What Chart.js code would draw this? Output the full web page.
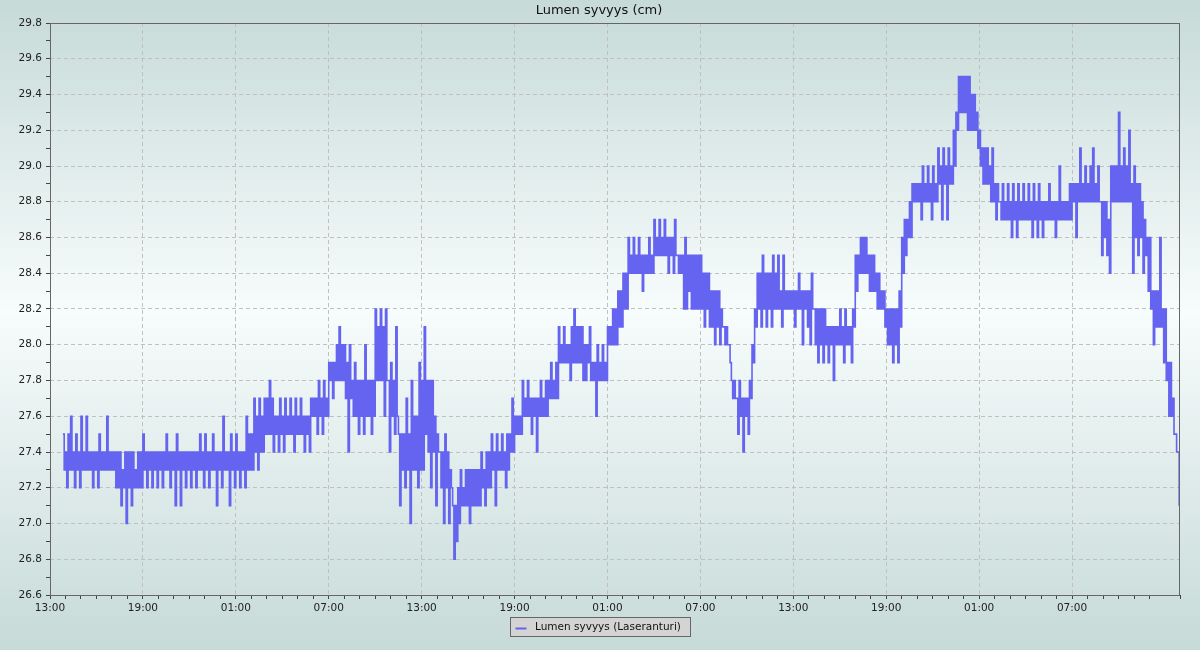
<!DOCTYPE html>
<html><head><meta charset="utf-8">
<script src="https://cdn.jsdelivr.net/npm/chart.js@4/dist/chart.umd.min.js"></script>
<style>html,body{margin:0;padding:0;background:#d8e7e5;overflow:hidden}</style>
</head><body>
<canvas id="c" width="1200" height="650"></canvas>
<script>
const TITLE = 'Lumen syvyys (cm)';
const SERIES_LABEL = 'Lumen syvyys (Laseranturi)';
const START_CLOCK_HOUR = 13;        // first x tick is 13:00
const SAMPLES_PER_HOUR = 12;        // 5-minute readings
const X_MAX_HOURS = 72.97;
const Y_MIN = 26.6, Y_MAX = 29.8;

// Readings (cm), 5-minute steps, one array per 6-hour window
const w13a = [null,null,null,null,null,null,null,null,null,null,
  27.5,27.3,27.4,27.2,27.5,27.3,27.6,27.3,27.4,27.2,27.5,27.3,27.4,27.2,27.6,27.3,27.4,27.3,27.6,27.3,27.4,27.3,27.4,27.2,27.4,27.3,27.4,27.2,27.5,27.3,27.4,27.3,27.4,27.3,27.6,27.3,27.4,27.3,27.4,27.3,
  27.4,27.2,27.4,27.2,27.4,27.1,27.3,27.2,27.4,27.0,27.4,27.2,27.4,27.1,27.4,27.2,27.3,27.2,27.4,27.2,27.4,27.2];
const w19a = [27.5,27.3,27.4,27.2,27.4,27.3,27.4,27.2,27.4,27.3,27.4,27.2,27.4,27.3,27.4,27.2,27.4,27.3,27.5,27.3,27.4,27.2,27.4,27.3,27.4,27.1,27.5,27.3,27.4,27.1,27.4,27.3,27.4,27.2,27.4,27.3,
  27.4,27.2,27.4,27.3,27.4,27.2,27.4,27.3,27.5,27.3,27.4,27.2,27.5,27.3,27.4,27.2,27.4,27.3,27.5,27.3,27.4,27.1,27.4,27.3,27.4,27.2,27.6,27.3,27.4,27.3,27.4,27.1,27.5,27.3,27.4,27.2];
const w01b = [27.5,27.3,27.4,27.2,27.4,27.3,27.4,27.2,27.6,27.3,27.5,27.3,27.5,27.3,27.7,27.4,27.6,27.3,27.7,27.4,27.6,27.4,27.7,27.5,27.7,27.5,27.8,27.5,27.7,27.4,27.6,27.5,27.6,27.4,27.7,27.5,
  27.6,27.4,27.7,27.5,27.6,27.5,27.7,27.5,27.6,27.4,27.7,27.5,27.6,27.5,27.7,27.5,27.6,27.4,27.6,27.5,27.6,27.4,27.7,27.6,27.7,27.6,27.7,27.5,27.8,27.6,27.7,27.5,27.8,27.6,27.7,27.6];
const w07b = [27.9,27.8,27.9,27.7,27.9,27.8,28.0,27.8,28.1,27.8,28.0,27.8,28.0,27.7,27.9,27.4,28.0,27.7,27.8,27.6,27.9,27.6,27.8,27.5,27.8,27.6,27.8,27.5,28.0,27.6,27.8,27.6,27.8,27.5,27.8,27.6,
  28.2,27.8,28.1,27.8,28.2,27.8,28.1,27.6,28.2,27.8,27.8,27.4,27.9,27.6,27.8,27.5,28.1,27.6,27.5,27.1,27.5,27.3,27.5,27.2,27.7,27.3,27.5,27.0,27.8,27.3,27.6,27.3,27.6,27.2,27.9,27.3];
const w13b = [27.8,27.3,28.1,27.5,27.8,27.4,27.8,27.2,27.8,27.4,27.6,27.1,27.5,27.4,27.4,27.2,27.4,27.0,27.5,27.2,27.4,27.0,27.3,27.2,27.1,26.8,27.1,26.9,27.2,27.0,27.3,27.1,27.2,27.1,27.3,27.1,
  27.3,27.0,27.3,27.1,27.3,27.1,27.3,27.1,27.3,27.1,27.4,27.2,27.3,27.1,27.4,27.2,27.4,27.2,27.5,27.3,27.4,27.1,27.5,27.3,27.4,27.3,27.5,27.3,27.4,27.2,27.5,27.3,27.5,27.4,27.7,27.4];
const w19b = [27.6,27.5,27.6,27.5,27.6,27.5,27.8,27.6,27.7,27.6,27.8,27.6,27.7,27.5,27.7,27.6,27.7,27.4,27.7,27.6,27.8,27.6,27.7,27.6,27.8,27.6,27.8,27.7,27.9,27.7,27.8,27.7,27.9,27.7,28.1,27.9,
  28.0,27.9,28.1,27.9,28.0,27.9,28.0,27.8,28.1,27.9,28.2,27.9,28.1,27.9,28.1,27.9,28.1,27.8,28.0,27.8,28.0,27.9,28.1,27.8,27.9,27.8,27.9,27.6,28.0,27.8,27.9,27.8,28.0,27.8,27.9,27.8];
const w01c = [28.1,28.0,28.1,28.0,28.2,28.0,28.2,28.0,28.3,28.1,28.3,28.1,28.4,28.2,28.4,28.2,28.6,28.4,28.5,28.4,28.6,28.4,28.5,28.4,28.6,28.4,28.5,28.3,28.5,28.4,28.5,28.4,28.6,28.4,28.5,28.4,
  28.7,28.5,28.6,28.5,28.7,28.5,28.6,28.5,28.7,28.5,28.6,28.4,28.6,28.5,28.6,28.4,28.7,28.5,28.5,28.4,28.5,28.4,28.5,28.2,28.6,28.2,28.5,28.3,28.5,28.2,28.5,28.2,28.5,28.2,28.5,28.2];
const w07c = [28.5,28.2,28.4,28.1,28.4,28.2,28.4,28.1,28.3,28.1,28.3,28.0,28.3,28.1,28.3,28.0,28.2,28.1,28.1,28.0,28.1,28.0,28.0,27.9,27.8,27.7,27.8,27.7,27.7,27.5,27.8,27.6,27.7,27.4,27.7,27.6,
  27.7,27.5,27.8,27.7,28.0,27.9,28.2,28.1,28.4,28.2,28.4,28.1,28.5,28.2,28.4,28.1,28.4,28.2,28.4,28.1,28.5,28.2,28.4,28.2,28.5,28.2,28.3,28.1,28.5,28.2,28.3,28.2,28.3,28.2,28.3,28.2];
const w13c = [28.3,28.1,28.3,28.2,28.4,28.2,28.3,28.0,28.3,28.2,28.3,28.1,28.3,28.0,28.4,28.2,28.2,28.0,28.2,27.9,28.2,28.0,28.2,27.9,28.2,28.0,28.1,27.9,28.1,28.0,28.1,27.8,28.1,28.0,28.1,28.0,
  28.2,28.0,28.1,27.9,28.2,28.0,28.1,28.0,28.1,27.9,28.2,28.1,28.5,28.3,28.5,28.4,28.6,28.4,28.6,28.4,28.6,28.4,28.5,28.3,28.5,28.3,28.5,28.3,28.4,28.2,28.4,28.2,28.3,28.2,28.3,28.1];
const w19c = [28.2,28.0,28.2,28.0,28.2,27.9,28.2,28.0,28.2,27.9,28.3,28.1,28.6,28.4,28.7,28.5,28.7,28.6,28.8,28.6,28.9,28.8,28.9,28.8,28.9,28.8,28.9,28.7,29.0,28.8,28.9,28.8,29.0,28.8,28.9,28.7,
  29.0,28.8,28.9,28.8,29.1,28.9,29.0,28.7,29.1,28.9,29.0,28.7,29.1,28.9,29.0,28.9,29.2,29.0,29.3,29.2,29.5,29.3,29.5,29.3,29.5,29.3,29.5,29.2,29.5,29.2,29.4,29.2,29.4,29.2,29.3,29.1];
const w01d = [29.2,29.0,29.1,28.9,29.1,28.9,29.1,28.9,29.0,28.8,29.1,28.8,28.9,28.7,28.9,28.8,28.8,28.7,28.9,28.7,28.8,28.7,28.9,28.7,28.8,28.6,28.9,28.7,28.8,28.6,28.9,28.7,28.8,28.7,28.9,28.7,
  28.8,28.7,28.9,28.7,28.8,28.6,28.9,28.7,28.8,28.6,28.9,28.7,28.8,28.6,28.8,28.7,28.8,28.7,28.9,28.7,28.8,28.7,28.8,28.6,28.8,28.7,29.0,28.7,28.8,28.7,28.8,28.7,28.8,28.7,28.9,28.7];
const w07d = [28.9,28.8,28.9,28.6,28.9,28.8,29.1,28.8,28.9,28.8,29.0,28.8,28.9,28.8,29.0,28.8,29.1,28.8,28.9,28.8,29.0,28.8,28.8,28.5,28.8,28.6,28.8,28.5,28.7,28.4,29.0,28.8,29.0,28.8,29.0,28.8,
  29.3,28.8,29.0,28.8,29.1,28.8,29.0,28.8,29.2,28.8,28.9,28.4,29.0,28.6,28.9,28.5,28.9,28.6,28.8,28.4,28.7,28.5,28.6,28.3,28.6,28.2,28.3,28.0,28.3,28.1,28.3,28.1,28.6,28.1,28.2,27.9];
const w13d = [28.2,27.8,27.9,27.6,27.9,27.6,27.7,27.5,27.5,27.4,27.4,27.1];
const windows = [w13a,w19a,w01b,w07b,w13b,w19b,w01c,w07c,w13c,w19c,w01d,w07d,w13d];

const points = [];
windows.forEach((arr, wi) => {
  arr.forEach((v, i) => {
    if (v !== null) points.push({x: wi * 6 + i / SAMPLES_PER_HOUR, y: v});
  });
});

const FONT = 'DejaVu Sans';
const GRID = '#c0c0c0';

const bgPlugin = {
  id: 'bg',
  beforeDraw(chart) {
    const {ctx, width, height} = chart;
    const g = ctx.createLinearGradient(0, 0, 0, height);
    g.addColorStop(0, '#c6dad8');
    g.addColorStop(0.48, '#f7fcfc');
    g.addColorStop(1, '#c6dad8');
    ctx.save();
    ctx.fillStyle = g;
    ctx.fillRect(0, 0, width, height);
    ctx.restore();
  }
};

const framePlugin = {
  id: 'frame',
  afterDatasetsDraw(chart) {
    const {ctx, chartArea: a} = chart;
    ctx.save();
    ctx.strokeStyle = '#666';
    ctx.lineWidth = 1;
    ctx.strokeRect(Math.round(a.left) + 0.5, Math.round(a.top) + 0.5,
                   Math.round(a.right - a.left) - 1, Math.round(a.bottom - a.top));
    ctx.restore();
  },
  afterDraw(chart) {
    const {ctx} = chart;
    ctx.save();
    ctx.fillStyle = '#111';
    ctx.font = '13px "' + FONT + '"';
    ctx.textAlign = 'center';
    ctx.textBaseline = 'middle';
    ctx.fillText(TITLE, 599, 11);
    const ds = chart.data.datasets[0];
    ctx.font = '10.5px "' + FONT + '"';
    const tw = ctx.measureText(ds.label).width;
    const bx = 510.5, by = 617.5, bw = Math.round(tw + 34), bh = 19;
    ctx.fillStyle = '#d4d4d4';
    ctx.fillRect(bx, by, bw, bh);
    ctx.strokeStyle = '#666';
    ctx.lineWidth = 1;
    ctx.strokeRect(bx, by, bw, bh);
    ctx.strokeStyle = ds.borderColor;
    ctx.lineWidth = 2;
    ctx.beginPath();
    ctx.moveTo(bx + 5, by + 11);
    ctx.lineTo(bx + 16, by + 11);
    ctx.stroke();
    ctx.fillStyle = '#111';
    ctx.textAlign = 'left';
    ctx.textBaseline = 'middle';
    ctx.fillText(ds.label, bx + 24.5, by + bh / 2 + 0.5);
    ctx.restore();
  }
};

function clockLabel(h) {
  const c = (START_CLOCK_HOUR + h) % 24;
  return String(c).padStart(2, '0') + ':00';
}

new Chart(document.getElementById('c'), {
  type: 'line',
  data: {
    datasets: [{
      label: SERIES_LABEL,
      data: points,
      borderColor: '#6464f0',
      borderWidth: 1.6,
      pointRadius: 0,
      stepped: true,
      fill: false,
      spanGaps: false
    }]
  },
  options: {
    responsive: false,
    animation: false,
    devicePixelRatio: 1,
    layout: {autoPadding: false, padding: {top: 23, right: 20, bottom: 30, left: 0}},
    plugins: {legend: {display: false}, title: {display: false}, tooltip: {enabled: false}},
    scales: {
      x: {
        type: 'linear',
        min: 0, max: X_MAX_HOURS,
        afterFit(s) { s.height = 25; },
        ticks: {
          stepSize: 1, autoSkip: false, maxRotation: 0, padding: 3,
          font: {family: FONT, size: 10.5}, color: '#222',
          callback: (v) => (Number.isInteger(v) && v % 6 === 0) ? clockLabel(v) : ''
        },
        grid: {
          color: (ctx) => (ctx.tick && Number.isInteger(ctx.tick.value) && ctx.tick.value % 6 === 0 && ctx.tick.value > 0) ? GRID : 'rgba(0,0,0,0)',
          tickColor: '#444', tickLength: 4, drawTicks: true, lineWidth: 1
        },
        border: {display: false, dash: [4, 3]}
      },
      y: {
        min: Y_MIN, max: Y_MAX,
        afterFit(s) { s.width = 50; },
        ticks: {
          stepSize: 0.1, autoSkip: false, padding: 4,
          font: {family: FONT, size: 10.5}, color: '#222',
          callback: (v) => { const t = Math.round(v * 10); return t % 2 === 0 ? (t / 10).toFixed(1) : ''; }
        },
        grid: {
          color: (ctx) => {
            if (!ctx.tick) return 'rgba(0,0,0,0)';
            const t = Math.round(ctx.tick.value * 10);
            return (t % 2 === 0 && t > 266 && t < 298) ? GRID : 'rgba(0,0,0,0)';
          },
          tickColor: '#444', tickLength: 4, drawTicks: true, lineWidth: 1
        },
        border: {display: false, dash: [4, 3]}
      }
    }
  },
  plugins: [bgPlugin, framePlugin]
});
</script>
</body></html>
